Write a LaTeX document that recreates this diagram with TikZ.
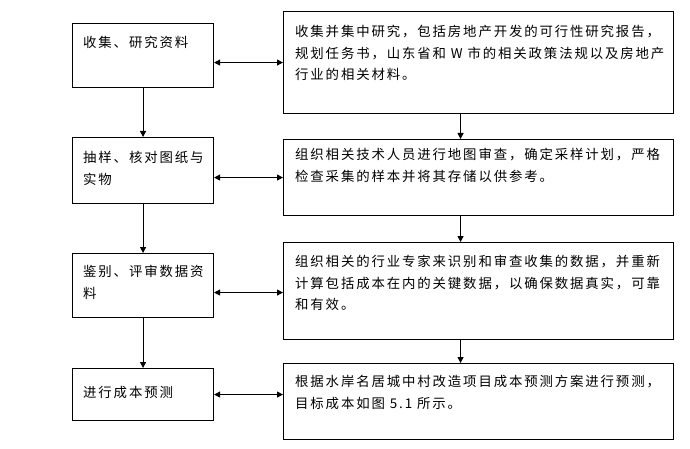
\documentclass[tikz,border=0pt]{standalone}
\usepackage{fontspec}
\newfontfamily\cjk{Noto Sans CJK SC}[LetterSpace=14]
\usetikzlibrary{arrows.meta}
\begin{document}
\begin{tikzpicture}[x=1pt,y=-1pt,
  box/.style={draw, line width=1.1pt, inner sep=0pt, anchor=north west, minimum width=#1},
  txt/.style={anchor=north west, align=left, inner sep=0pt, font=\cjk\fontsize{13.4}{21.5}\selectfont},
  arr/.style={-{Triangle[length=6pt,width=6pt]}, line width=0.9pt},
  darr/.style={{Triangle[length=6pt,width=6pt]}-{Triangle[length=6pt,width=6pt]}, line width=0.9pt}]
\useasboundingbox (0,0) rectangle (690,449);
% left boxes
\node[box=141pt, minimum height=64pt] (L1) at (72,23) {};
\node[box=141pt, minimum height=66pt] (L2) at (72,137) {};
\node[box=141pt, minimum height=64pt] (L3) at (72,253) {};
\node[box=141pt, minimum height=52pt] (L4) at (72,368) {};
% right boxes
\node[box=390pt, minimum height=102pt] (R1) at (283,11) {};
\node[box=390pt, minimum height=76pt] (R2) at (283,139) {};
\node[box=390pt, minimum height=97pt] (R3) at (283,242) {};
\node[box=390pt, minimum height=76pt] (R4) at (283,363) {};
% texts
\node[txt] (tL1) at (83,36) {收集、研究资料};
\node[txt] (tL2) at (83,151) {抽样、核对图纸与\\实物};
\node[txt] (tL3) at (83,265) {鉴别、评审数据资\\料};
\node[txt] (tL4) at (83,386) {进行成本预测};
\node[txt] (tR1) at (295,25) {收集并集中研究，包括房地产开发的可行性研究报告，\\规划任务书，山东省和 W 市的相关政策法规以及房地产\\行业的相关材料。};
\node[txt] (tR2) at (295,148) {组织相关技术人员进行地图审查，确定采样计划，严格\\检查采集的样本并将其存储以供参考。};
\node[txt] (tR3) at (295,255) {组织相关的行业专家来识别和审查收集的数据，并重新\\计算包括成本在内的关键数据，以确保数据真实，可靠\\和有效。};
\node[txt] (tR4) at (295,375) {根据水岸名居城中村改造项目成本预测方案进行预测，\\目标成本如图 5.1 所示。};
% vertical arrows
\draw[arr] (L1.south) -- (L2.north);
\draw[arr] (L2.south) -- (L3.north);
\draw[arr] (L3.south) -- (L4.north);
\draw[arr] ([xshift=-18pt]R1.south) -- ([xshift=-18pt]R2.north);
\draw[arr] ([xshift=-18pt]R2.south) -- ([xshift=-18pt]R3.north);
\draw[arr] ([xshift=-18pt]R3.south) -- ([xshift=-18pt]R4.north);
% double arrows
\draw[darr] ([yshift=-7pt]L1.east) -- ([yshift=-7pt]L1.east -| R1.west);
\draw[darr] ([yshift=-7pt]L2.east) -- ([yshift=-7pt]L2.east -| R2.west);
\draw[darr] ([yshift=-7pt]L3.east) -- ([yshift=-7pt]L3.east -| R3.west);
\draw[darr] (L4.east) -- (L4.east -| R4.west);
\end{tikzpicture}
\end{document}
